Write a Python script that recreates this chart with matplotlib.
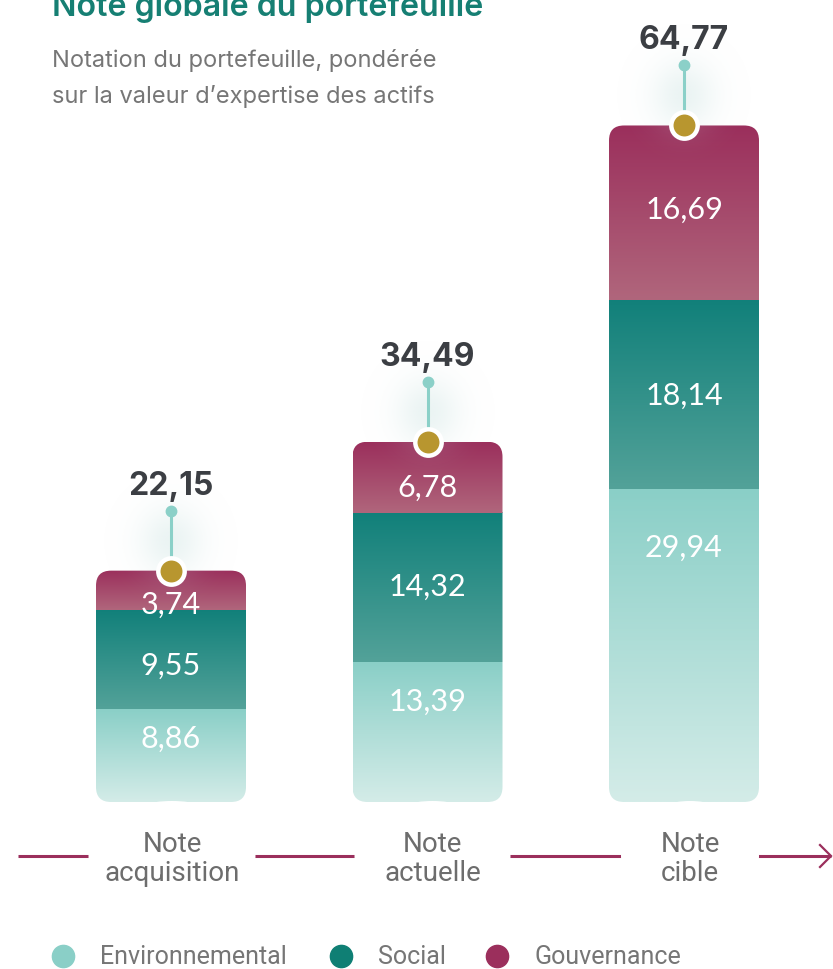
import numpy as np
import matplotlib
matplotlib.use('Agg')
import matplotlib.pyplot as plt
from matplotlib.patches import FancyBboxPatch, Ellipse
from matplotlib.colors import to_rgb

# ---------------- data ----------------
categories = ["Note\nacquisition", "Note\nactuelle", "Note\ncible"]
environnemental = [8.86, 13.39, 29.94]
social = [9.55, 14.32, 18.14]
gouvernance = [3.74, 6.78, 16.69]
totals = [22.15, 34.49, 64.77]
series_names = ["Environnemental", "Social", "Gouvernance"]

title = "Note globale du portefeuille"
subtitle = ["Notation du portefeuille, pondérée", "sur la valeur d\u2019expertise des actifs"]

# ---------------- style ----------------
W, H = 833, 970
XPX, YPX = 256.5, 10.445      # px per data unit
X0PX, Y0PX = 171, 803         # pixel of data origin (from left / from top)

grad_cols = [("#8acfc7", "#d4ece8"),   # env
             ("#11807a", "#53a299"),   # social
             ("#9b2f5c", "#b0667c")]   # gov
legend_cols = ["#8acfc7", "#0f7f74", "#9b2f5c"]
label_shift_px = [[-18, 5, 14], [-31, -2, 10], [-99, 0, -4]]  # env, soc, gov per bar

fig = plt.figure(figsize=(W / 100, H / 100), dpi=100)
ax = fig.add_axes([0, 0, 1, 1])
ax.axis('off')

def xd(px):
    return (px - X0PX) / XPX

def yd(py):
    return (Y0PX - py) / YPX

def dx(p):
    return p / XPX

def dy(p):
    return p / YPX

bw = dx(150)
rad = dx(15)
aspect = XPX / YPX

def fmt(v):
    return f"{v:.2f}".replace('.', ',')

series = [environnemental, social, gouvernance]
for i in range(len(categories)):
    total = sum(s[i] for s in series)
    clip = FancyBboxPatch((i - bw / 2, 0), bw, total,
                          boxstyle=f"round,pad=0,rounding_size={rad}",
                          mutation_aspect=aspect, facecolor='none', edgecolor='none')
    ax.add_patch(clip)
    bottom = 0
    for k, s in enumerate(series):
        v = s[i]
        t = np.linspace(0, 1, 256)[:, None]
        c = (1 - t) * np.array(to_rgb(grad_cols[k][0])) + t * np.array(to_rgb(grad_cols[k][1]))
        im = ax.imshow(c.reshape(256, 1, 3), extent=[i - bw / 2, i + bw / 2, bottom, bottom + v],
                       origin='upper', aspect='auto', interpolation='bilinear', zorder=2)
        im.set_clip_path(clip)
        ax.text(i, bottom + v / 2 - dy(label_shift_px[i][k]), fmt(v), ha='center', va='center',
                fontsize=22, color='white', family='Lato', fontweight='normal', zorder=5)
        bottom += v

    # glow
    gx = np.linspace(-1, 1, 120)
    GX, GY = np.meshgrid(gx, gx)
    r2 = GX ** 2 + GY ** 2
    rgba = np.zeros((120, 120, 4))
    rgba[..., :3] = to_rgb("#c6e0de")
    rgba[..., 3] = 0.35 * np.exp(-r2 / 0.18)
    ax.imshow(rgba, extent=[i - dx(75), i + dx(75), total + dy(30) - dy(80), total + dy(30) + dy(80)],
              origin='upper', aspect='auto', interpolation='bilinear', zorder=3)

    stem = dy(60)
    ax.plot([i, i], [total, total + stem], color='#8bd0c8', lw=2.2, zorder=4, solid_capstyle='butt')
    ax.plot(i, total + stem, 'o', ms=7.5, color='#8bd0c8', zorder=4)
    ax.plot(i, total, 'o', ms=19, mfc='#b8962f', mec='white', mew=3.2, zorder=6)
    ax.text(i, total + stem + dy(17), fmt(totals[i]), ha='center', va='baseline',
            fontsize=23, fontweight='bold', color='#3b3e43', family='Inter', zorder=6)

# bottom axis line with arrow
y_ax = yd(857)
axis_col = '#9b2f5c'
ax.plot([xd(18), xd(831)], [y_ax, y_ax], color=axis_col, lw=2.2, zorder=2, solid_capstyle='butt')
ax.plot([xd(820), xd(831), xd(820)], [y_ax + dy(11), y_ax, y_ax - dy(11)], color=axis_col, lw=1.6,
        zorder=2, solid_joinstyle='miter')

ell_w = [167, 156, 138]
ell_shift = [1, 5, 6]
for i, cat in enumerate(categories):
    cx = i + dx(ell_shift[i])
    ax.add_patch(Ellipse((cx, y_ax), dx(ell_w[i]), dy(110), facecolor='white', edgecolor='none', zorder=3))
    ax.text(cx, y_ax - dy(2), cat, ha='center', va='center', fontsize=20, color='#6d6d6d',
            linespacing=1.12, family='Roboto', fontweight='normal', zorder=4)

# legend
leg_x = [63, 341, 497]
for k, name in enumerate(series_names):
    ax.plot(xd(leg_x[k]), yd(957), 'o', ms=16, color=legend_cols[k], zorder=4)
    ax.text(xd(leg_x[k] + 37), yd(957), name, ha='left', va='center', fontsize=18, color='#767676',
            family='Roboto', fontweight='normal', zorder=4)

# title and subtitle
ax.text(xd(52), yd(16), title, ha='left', va='baseline', fontsize=23.2, color='#167f73',
        family='Inter', fontweight='semibold')
ax.text(xd(52), yd(60), subtitle[0], ha='left', va='center', fontsize=17, color='#767676', family='Inter')
ax.text(xd(52), yd(97), subtitle[1], ha='left', va='center', fontsize=17, color='#767676', family='Inter')

ax.set_xlim(xd(0), xd(W))
ax.set_ylim(yd(H), yd(0))
fig.savefig("out.png", dpi=100)
